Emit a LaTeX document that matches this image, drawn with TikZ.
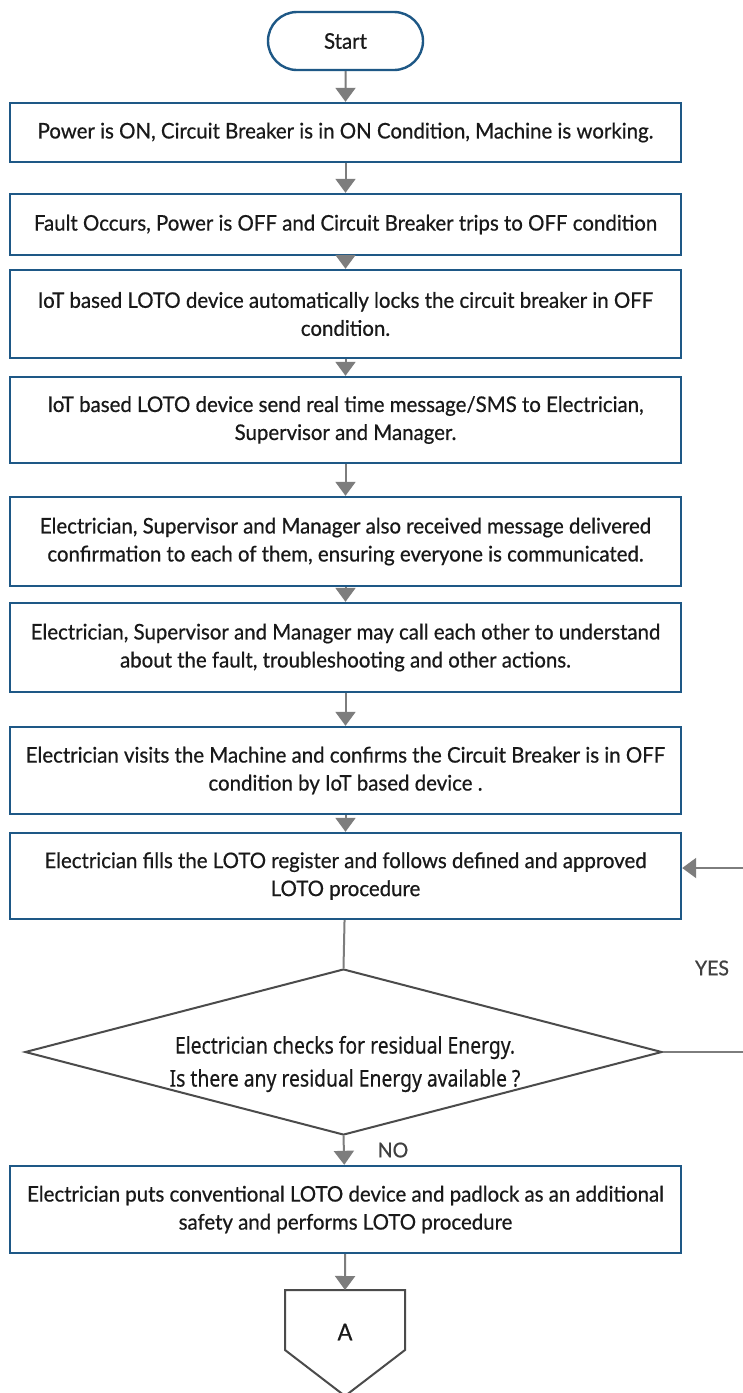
\documentclass[tikz,border=0pt]{standalone}
\usepackage{fontspec}
\setmainfont{Lato}[FakeStretch=0.95,FakeBold=0.6]
\newfontfamily\diafont{Noto Sans}[FakeStretch=0.84,FakeBold=0.4]
\usetikzlibrary{arrows.meta,shapes.geometric,shapes.misc}

\definecolor{boxblue}{RGB}{30,88,134}
\definecolor{linegray}{RGB}{125,125,125}
\definecolor{diagray}{RGB}{75,75,75}
\definecolor{textdark}{RGB}{25,25,25}

\tikzset{
  stepbox/.style={draw=boxblue, line width=2.4pt, fill=white, rectangle,
    minimum width=671pt, inner sep=0pt, align=center, text=textdark,
    font=\fontsize{21.5}{28}\selectfont},
  startbox/.style={draw=boxblue, line width=2.4pt, fill=white, rounded rectangle,
    minimum width=155pt, minimum height=58pt, inner sep=0pt, text=textdark,
    font=\fontsize{21.5}{28}\selectfont},
  decision/.style={draw=diagray, line width=2pt, fill=white, diamond, aspect=3.84,
    minimum width=637pt, minimum height=166pt, inner sep=0pt},
  decisiontext/.style={align=center, text=textdark, inner sep=0pt,
    font=\diafont\fontsize{23}{33}\selectfont},
  flow/.style={draw=linegray, line width=2pt,
    -{Triangle[length=14pt,width=20pt]}},
  plainline/.style={draw=linegray, line width=2pt},
  lbl/.style={font=\fontsize{20.5}{24}\selectfont, text=black!75}
}

\begin{document}
\begin{tikzpicture}[x=1pt,y=-1pt]
\useasboundingbox[fill=white] (0,0) rectangle (743,1393);

\node[startbox] (start) at (345.5,41) {Start};

\node[stepbox, minimum height=59pt] (b1) at (345.5,132.5)
  {Power is ON, Circuit Breaker is in ON Condition, Machine is working.};
\node[stepbox, minimum height=61pt] (b2) at (345.5,224.5)
  {Fault Occurs, Power is OFF and Circuit Breaker trips to OFF condition};
\node[stepbox, minimum height=88pt] (b3) at (345.5,314)
  {IoT based LOTO device automatically locks the circuit breaker in OFF\\condition.};
\node[stepbox, minimum height=86pt] (b4) at (345.5,420)
  {IoT based LOTO device send real time message/SMS to Electrician,\\Supervisor and Manager.};
\node[stepbox, minimum height=89pt] (b5) at (345.5,541.5)
  {Electrician, Supervisor and Manager also received message delivered\\confirmation to each of them, ensuring everyone is communicated.};
\node[stepbox, minimum height=89pt] (b6) at (345.5,647.5)
  {Electrician, Supervisor and Manager may call each other to understand\\about the fault, troubleshooting and other actions.};
\node[stepbox, minimum height=87pt] (b7) at (345.5,770.5)
  {Electrician visits the Machine and confirms the Circuit Breaker is in OFF\\condition by IoT based device .};
\node[stepbox, minimum height=86pt] (b8) at (345.5,876)
  {Electrician fills the LOTO register and follows defined and approved\\LOTO procedure};

\node[decision] (dec) at (343.5,1052) {};
\node[decisiontext] (dectext) at (345,1064)
  {Electrician checks for residual Energy.\\Is there any residual Energy available ?};

\node[stepbox, minimum height=87pt] (b9) at (345.5,1209.5)
  {Electrician puts conventional LOTO device and padlock as an additional\\safety and performs LOTO procedure};

% off-page connector
\coordinate (cA) at (345,1290);
\draw[draw=diagray, line width=2pt, fill=white]
  (285,1290) -- (405,1290) -- (405,1350) -- (345,1396) -- (285,1350) -- cycle;
\node[font=\fontsize{23}{24}\selectfont, text=textdark] (offA) at (345,1332) {A};

% main flow
\draw[flow] (start) -- (b1);
\draw[flow] (b1) -- (b2);
\draw[flow] (b2) -- (b3);
\draw[flow] (b3) -- (b4);
\draw[flow] (b4) -- (b5);
\draw[flow] (b5) -- (b6);
\draw[flow] (b6) -- (b7);
\draw[flow] (b7) -- (b8);
\draw[plainline] (b8) -- (dec.north);
\draw[flow] (dec.south) -- (b9);
\draw[flow] (b9) -- (cA);

% YES branch back to the register step
\coordinate (yesA) at (748,1052);
\coordinate (yesB) at (748,868);
\draw[flow] (dec.east) -- (yesA) -- (yesB) -- (yesB -| b8.east);

\node[lbl] (yes) at (712,968) {YES};
\node[lbl] (no) at (393,1150) {NO};
\end{tikzpicture}
\end{document}
